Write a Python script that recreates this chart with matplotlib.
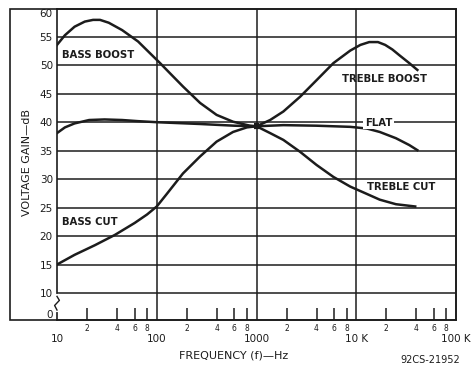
import matplotlib
matplotlib.use('Agg')
import matplotlib.pyplot as plt
import matplotlib.transforms as mtransforms
from matplotlib.patches import Rectangle
from matplotlib.ticker import FixedLocator, NullFormatter

# values (frequency in Hz, gain in dB)
bass_boost_f = [10, 12, 15, 19, 23, 27, 33, 45, 65, 86, 108, 136, 183, 272, 398, 582, 860, 1000]
bass_boost_db = [53.6, 55.3, 56.8, 57.7, 58.0, 58.0, 57.5, 56.2, 54.2, 52.1, 50.4, 48.6, 46.3, 43.4, 41.3, 40.1, 39.4, 39.3]

bass_cut_f = [10, 15, 24, 38, 60, 80, 100, 126, 183, 272, 398, 582, 800, 1000]
bass_cut_db = [15.0, 16.7, 18.4, 20.2, 22.3, 23.8, 25.2, 27.4, 31.0, 34.0, 36.6, 38.3, 39.1, 39.3]

flat_f = [10, 12, 15, 21, 30, 45, 65, 104, 272, 600, 1000, 1860, 4000, 8700, 12800, 17200, 25000, 34000, 41000]
flat_db = [38.1, 39.1, 39.8, 40.4, 40.5, 40.4, 40.2, 40.0, 39.7, 39.4, 39.3, 39.5, 39.4, 39.2, 38.9, 38.3, 37.2, 36.0, 35.1]

treble_boost_f = [1000, 1370, 1860, 2740, 4000, 5900, 8700, 11000, 13500, 16500, 19500, 23000, 27000, 34000, 41000]
treble_boost_db = [39.3, 40.4, 41.9, 44.5, 47.4, 50.4, 52.6, 53.6, 54.1, 54.1, 53.6, 52.8, 51.8, 50.4, 49.2]

treble_cut_f = [1000, 1370, 1860, 2740, 4000, 5900, 8700, 12800, 17200, 25000, 39000]
treble_cut_db = [39.3, 38.1, 36.9, 34.8, 32.5, 30.4, 28.7, 27.4, 26.4, 25.6, 25.2]

y_ticks = [6.3, 10, 15, 20, 25, 30, 35, 40, 45, 50, 55, 60]
y_labels = ['0', '10', '15', '20', '25', '30', '35', '40', '45', '50', '55', '60']
x_major = [10, 100, 1000, 10000, 100000]
x_major_labels = ['10', '100', '1000', '10 K', '100 K']
x_minor = [m * d for d in [10, 100, 1000, 10000] for m in [2, 4, 6, 8]]

ink = '#1c1c1c'
W, H = 473, 367

fig = plt.figure(figsize=(4.73, 3.67), dpi=100)
ax = fig.add_axes([57 / W, 1 - 320 / H, (456 - 57) / W, (320 - 8.5) / H])

# outer frame around axes + y label
fig.add_artist(Rectangle((9.5 / W, 1 - 320 / H), (456 - 9.5) / W, (320 - 8.5) / H,
                         transform=fig.transFigure, fill=False, lw=1.2, ec=ink))

ax.set_xscale('log')
ax.set_xlim(10, 100000)
ax.set_ylim(5.25, 60)

for d in [100, 1000, 10000]:
    ax.axvline(d, color=ink, lw=1.1, zorder=1)
for g in range(10, 60, 5):
    ax.axhline(g, color=ink, lw=1.1, zorder=1)

lw = 1.8
for fx, dy in [(bass_boost_f, bass_boost_db), (bass_cut_f, bass_cut_db), (flat_f, flat_db),
               (treble_boost_f, treble_boost_db), (treble_cut_f, treble_cut_db)]:
    ax.plot(fx, dy, color=ink, lw=lw, zorder=3, solid_joinstyle='round')
ax.plot([950, 1050], [39.3, 39.3], color=ink, lw=4.5, solid_capstyle='butt', zorder=3)

for s in ax.spines.values():
    s.set_color(ink)
    s.set_linewidth(1.2)

# x ticks
ax.xaxis.set_major_locator(FixedLocator(x_major))
ax.set_xticklabels(x_major_labels)
ax.xaxis.set_minor_locator(FixedLocator(x_minor))
ax.xaxis.set_minor_formatter(NullFormatter())
ax.tick_params(axis='x', which='major', length=0, pad=10, labelsize=7.5, labelcolor=ink)
ax.tick_params(axis='x', which='minor', direction='in', length=9, width=1.1, color=ink)
minor_lab = ['2', '4', '6', '8'] * 4
trans = mtransforms.blended_transform_factory(ax.transData, ax.transAxes)
for xv, lab in zip(x_minor, minor_lab):
    ax.text(xv, -0.012, lab, transform=trans, ha='center', va='top', fontsize=5.5, color=ink)

# y ticks
ax.set_yticks(y_ticks)
ax.set_yticklabels(y_labels)
ax.tick_params(axis='y', length=0, pad=3, labelsize=7.5, labelcolor=ink)
ax.yaxis.get_major_ticks()[-1].label1.set_verticalalignment('top')

# axis break squiggle
tb = mtransforms.blended_transform_factory(ax.transAxes, ax.transData)
ax.plot([0, 0], [7.0, 9.4], color='white', lw=3, transform=tb, clip_on=False, zorder=6)
ax.plot([0, 0.006, -0.006, 0], [9.4, 8.7, 7.8, 7.0], color=ink, lw=1.0,
        transform=tb, clip_on=False, zorder=7)

fnt = dict(fontsize=7.3, fontweight='bold', color=ink, family='DejaVu Sans')
ax.text(11.2, 51.8, 'BASS BOOST', ha='left', va='center', **fnt)
ax.text(11.2, 22.4, 'BASS CUT', ha='left', va='center', **fnt)
ax.text(7200, 47.6, 'TREBLE BOOST', ha='left', va='center', **fnt)
ax.text(12200, 39.9, 'FLAT', ha='left', va='center', zorder=5,
        bbox=dict(fc='white', ec='none', pad=1.0), **fnt)
ax.text(12900, 28.6, 'TREBLE CUT', ha='left', va='center', zorder=5, **fnt)

fig.text(27 / W, 1 - 163 / H, 'VOLTAGE GAIN\u2014dB', rotation=90, ha='center', va='center',
         fontsize=8, color=ink)
fig.text(234 / W, 1 - 355 / H, 'FREQUENCY (f)\u2014Hz', ha='center', va='center',
         fontsize=8, color=ink)
fig.text(430 / W, 1 - 360 / H, '92CS-21952', ha='center', va='center', fontsize=7, color=ink)

fig.savefig('out.png', dpi=100)
